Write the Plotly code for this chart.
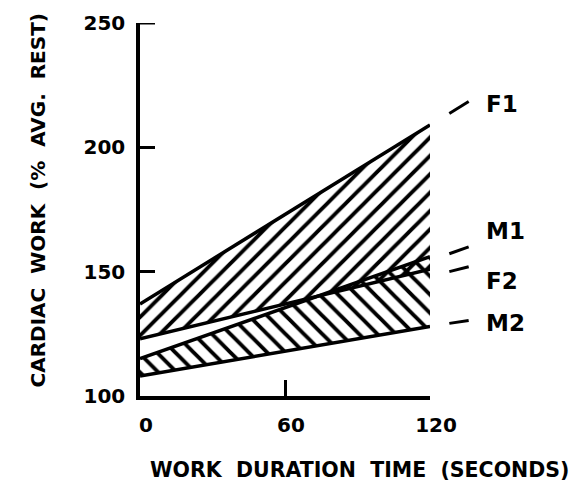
import plotly.graph_objects as go

# Data
time_s = [0, 120]
F1 = [137, 209]
F2 = [123, 151]
M1 = [115, 156]
M2 = [108, 128]
series_names = ["F1", "M1", "F2", "M2"]
x_ticks = [0, 60, 120]
y_ticks = [100, 150, 200, 250]

FONT = "DejaVu Sans"
BLACK = "black"
CLEAR = "rgba(0,0,0,0)"
X_MAX = time_s[-1]

fig = go.Figure()

def band(lower, upper, shape):
    fig.add_trace(go.Scatter(x=time_s, y=lower, mode="lines",
                             line=dict(color=BLACK, width=3.5),
                             cliponaxis=False, showlegend=False,
                             hoverinfo="skip"))
    fig.add_trace(go.Scatter(x=time_s, y=upper, mode="lines",
                             line=dict(color=BLACK, width=3.5),
                             fill="tonexty", fillcolor=BLACK,
                             fillpattern=dict(shape=shape, fgcolor=BLACK,
                                              bgcolor=CLEAR, fgopacity=1,
                                              size=13, solidity=0.3),
                             cliponaxis=False, showlegend=False,
                             hoverinfo="skip"))

band(F2, F1, "/")
band(M2, M1, "\\")

# Labels with short leader dashes
ends = {"F1": F1[-1], "M1": M1[-1], "F2": F2[-1], "M2": M2[-1]}
dash_off = {"F1": (4.6, 9.4), "M1": (1.2, 4.0), "F2": (-1.0, 1.0), "M2": (1.2, 2.4)}
text_off = {"F1": 8.6, "M1": 10.4, "F2": -4.6, "M2": 1.2}
for name in series_names:
    e = ends[name]
    d0, d1 = dash_off[name]
    fig.add_shape(type="line", x0=128 / X_MAX, x1=136 / X_MAX,
                  y0=e + d0, y1=e + d1, xref="paper", yref="y",
                  line=dict(color=BLACK, width=3))
    fig.add_annotation(x=142.5 / X_MAX, y=e + text_off[name], xref="paper",
                       yref="y", text=name, showarrow=False, xanchor="left",
                       yanchor="middle",
                       font=dict(family=FONT, size=23, color=BLACK,
                                 weight="bold"))

# top tick of the y axis (Plotly hides ticks sitting on the range edge)
fig.add_shape(type="line", x0=0, x1=15 / 290, y0=y_ticks[-1], y1=y_ticks[-1],
              xref="paper", yref="y", line=dict(color=BLACK, width=3))

fig.add_annotation(text="CARDIAC  WORK  (%  AVG.  REST)",
                   xref="paper", yref="paper", x=0, y=0.5, xshift=-103,
                   yshift=9, textangle=-90, showarrow=False,
                   xanchor="center", yanchor="middle",
                   font=dict(family=FONT, size=20, color=BLACK, weight="bold"))
fig.add_annotation(text="WORK  DURATION  TIME  (SECONDS)",
                   xref="paper", yref="paper", x=0.5, y=0, xshift=74,
                   yshift=-74, showarrow=False, xanchor="center",
                   yanchor="middle",
                   font=dict(family=FONT, size=20.5, color=BLACK,
                             weight="bold"))

tick_font = dict(family=FONT, size=20, color=BLACK, weight="bold")
fig.update_xaxes(range=[0, 120], tickvals=x_ticks, ticks="inside",
                 ticklen=16, tickwidth=3, tickcolor=BLACK, showline=True,
                 linewidth=3.5, linecolor=BLACK, showgrid=False, zeroline=False,
                 tickfont=tick_font, ticklabelstandoff=8, ticklabelshift=6)
fig.update_yaxes(range=[100, 250], tickvals=y_ticks, ticks="inside",
                 ticklen=15, tickwidth=3, tickcolor=BLACK, showline=True,
                 linewidth=3.5, linecolor=BLACK, showgrid=False, zeroline=False,
                 tickfont=tick_font, ticklabelstandoff=7)

fig.update_layout(width=574, height=489,
                  margin=dict(l=140, r=144, t=23, b=93, autoexpand=False),
                  plot_bgcolor="white", paper_bgcolor="white",
                  font=dict(family=FONT, color=BLACK))

fig.write_html("out.html")
